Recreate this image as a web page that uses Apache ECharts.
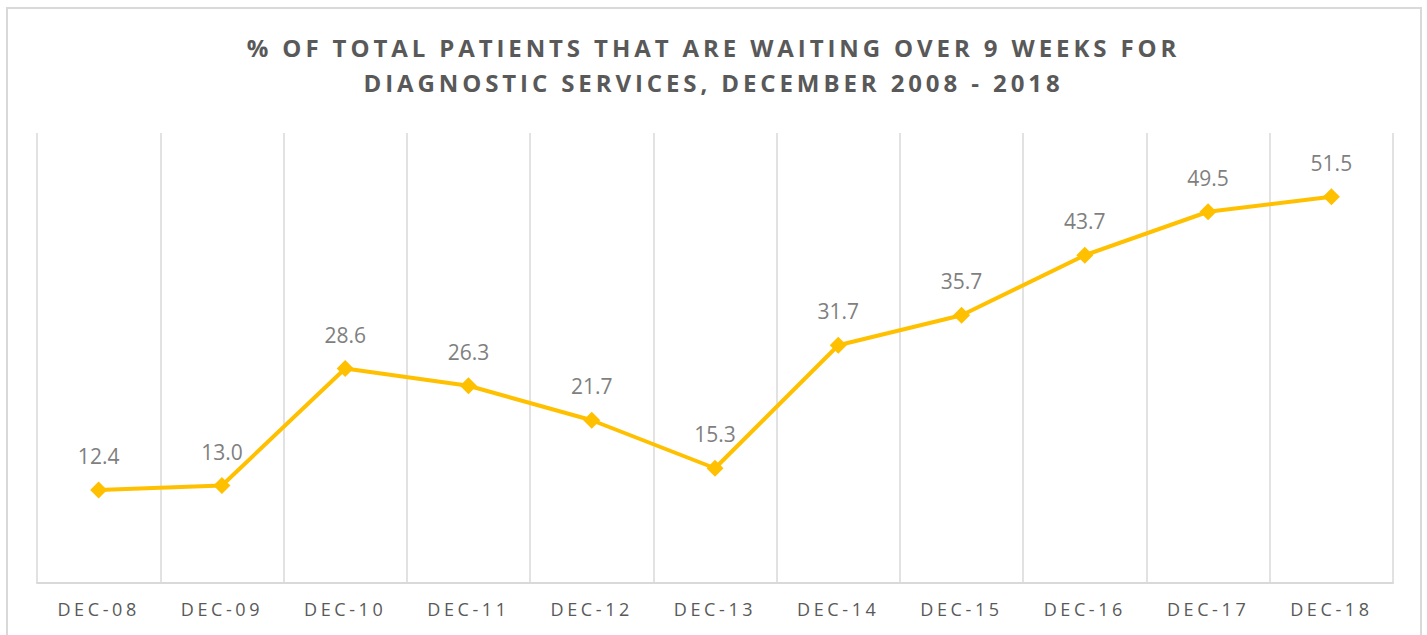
<!DOCTYPE html>
<html>
<head>
<meta charset="utf-8">
<script src="https://cdn.jsdelivr.net/npm/echarts@6/dist/echarts.min.js"></script>
<style>
  html, body { margin: 0; padding: 0; background: #fff; }
  #main { width: 1427px; height: 635px; }
  /* letter spacing for title and axis labels (svg renderer) */
  #main text[style*="24px"] { letter-spacing: 3.9px; }
  #main text[style*="18px"] { letter-spacing: 3.6px; }
</style>
</head>
<body>
<div id="main"></div>
<script>
// categories and values
const years = ["DEC-08", "DEC-09", "DEC-10", "DEC-11", "DEC-12", "DEC-13",
               "DEC-14", "DEC-15", "DEC-16", "DEC-17", "DEC-18"]
const waitingPct = [12.4, 13.0, 28.6, 26.3, 21.7, 15.3, 31.7, 35.7, 43.7, 49.5, 51.5]

const chartTitle = "% OF TOTAL PATIENTS THAT ARE WAITING OVER 9 WEEKS FOR\nDIAGNOSTIC SERVICES, DECEMBER 2008 - 2018"

const myChart = echarts.init(document.getElementById('main'), null, { renderer: 'svg' })

const option = {
    backgroundColor: '#fff',
    animation: false,
    title: {
        text: chartTitle,
        left: 'center',
        top: 25,
        textStyle: {
            fontFamily: 'Open Sans',
            fontWeight: 'bold',
            fontSize: 24,
            lineHeight: 35,
            color: '#595959'
        }
    },
    graphic: [{
        // outer chart border
        type: 'rect',
        shape: { x: 7, y: 8, width: 1414, height: 660 },
        style: { fill: 'none', stroke: '#d9d9d9', lineWidth: 2 },
        silent: true
    }],
    grid: {
        left: 37,
        right: 34,
        top: 133,
        bottom: 52
    },
    xAxis: {
        type: 'category',
        data: years,
        boundaryGap: true,
        axisLine: { lineStyle: { color: '#d9d9d9', width: 2 } },
        axisTick: { show: false },
        splitLine: { show: true, interval: 0, lineStyle: { color: '#d9d9d9', width: 1.5 } },
        axisLabel: {
            interval: 0,
            margin: 17,
            fontFamily: 'Open Sans',
            fontSize: 18,
            color: '#595959'
        }
    },
    yAxis: {
        type: 'value',
        min: 0,
        max: 60,
        show: false,
        splitLine: { show: false }
    },
    series: [{
        name: 'waiting',
        type: 'line',
        data: waitingPct,
        symbol: 'diamond',
        symbolSize: 17,
        itemStyle: { color: '#ffc000' },
        lineStyle: { color: '#ffc000', width: 4 },
        label: {
            show: true,
            position: 'top',
            distance: 15,
            fontFamily: 'Open Sans',
            fontSize: 21,
            color: '#7f7f7f',
            formatter: p => p.value.toFixed(1)
        }
    }]
}

myChart.setOption(option)
</script>
</body>
</html>
